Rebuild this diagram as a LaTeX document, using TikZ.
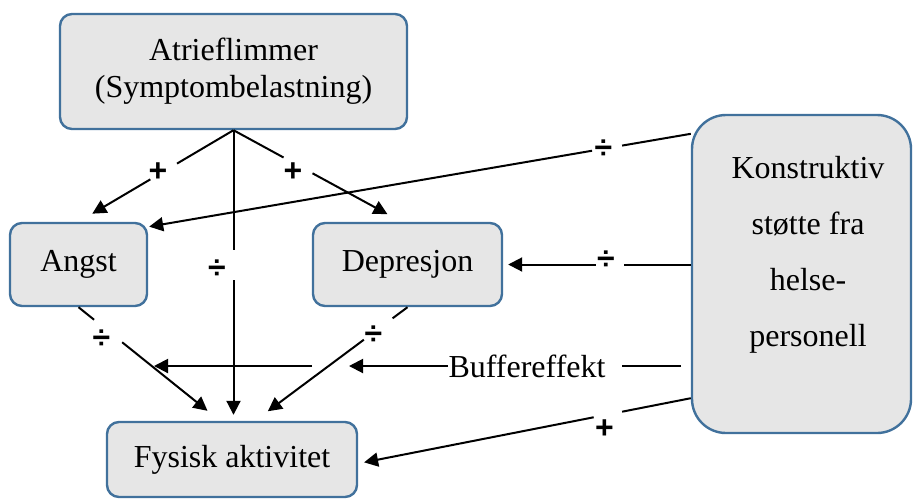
\documentclass[tikz,border=0pt]{standalone}
\usepackage{fontspec}
\setmainfont{Liberation Serif}
\newfontfamily\signfont{Liberation Sans}
\usetikzlibrary{arrows.meta, positioning}
\definecolor{boxblue}{RGB}{65,113,156}
\definecolor{boxgray}{RGB}{230,230,230}

\begin{document}
\begin{tikzpicture}[
    x=0.5pt, y=-0.5pt,
    font=\fontsize{16}{18.5}\selectfont,
    >={Triangle[length=7pt, width=7pt]},
    box/.style={rectangle, draw=boxblue, line width=1.2pt, fill=boxgray, rounded corners=6pt, align=center, inner sep=0pt},
    link/.style={->, line width=1pt},
    sign/.style={font=\signfont\bfseries\fontsize{16}{18}\selectfont, inner sep=0pt}
]
\useasboundingbox (0,0) rectangle (913,499);

    % Boxes
    \node (atrie) [box, minimum width=173.5pt, minimum height=57.5pt] at (233.5,71.5) {Atrieflimmer\\(Symptombelastning)};
    \node (angst) [box, minimum width=68.5pt, minimum height=41.5pt] at (78.5,264.5) {Angst};
    \node (depres) [box, minimum width=94.5pt, minimum height=41.5pt] at (407.5,264.5) {Depresjon};
    \node (fysisk) [box, minimum width=125pt, minimum height=37.5pt] at (232,459.5) {Fysisk aktivitet};

    % Support box (right)
    \node (konst) [box, rounded corners=17pt, minimum width=109.5pt, minimum height=159pt] at (801.5,274) {};
    \node (konsttxt) [align=center, font=\fontsize{16}{28}\selectfont] at (808,255) {Konstruktiv\\støtte fra\\helse-\\personell};

    % Signs
    \node (plusA) [sign] at (158,172) {+};
    \node (plusB) [sign] at (293,172) {+};
    \node (divA) [sign] at (217,269) {÷};
    \node (divB) [sign] at (101.5,339) {÷};
    \node (divC) [sign] at (373.5,335) {÷};
    \node (divD) [sign] at (603.5,149) {÷};
    \node (divE) [sign] at (606,260) {÷};
    \node (plusC) [sign] at (604.5,429) {+};

    % Arrows from Atrieflimmer
    \draw[link, shorten >=8pt, dash pattern=on 32.8pt off 15.5pt on 300pt] (atrie.south) -- (angst.north);
    \draw[link, shorten >=8pt, dash pattern=on 28.5pt off 16.5pt on 300pt] (atrie.south) -- ([xshift=-3pt]depres.north);
    \draw[link, shorten >=3pt, dash pattern=on 60pt off 15pt on 300pt] (atrie.south) -- (atrie.south |- fysisk.north);

    % Arrows to Fysisk aktivitet
    \draw[link, shorten >=8pt, dash pattern=on 10pt off 18pt on 300pt] (angst.south) -- ([xshift=-6pt]fysisk.north);
    \draw[link, shorten >=8pt, dash pattern=on 9.3pt off 17.9pt on 300pt] (depres.south) -- ([xshift=11.5pt]fysisk.north);

    % Arrows from support
    \draw[link, shorten >=0.5pt, dash pattern=on 34.85pt off 15.25pt on 300pt] ([yshift=-10pt]konst.north west) -- ([yshift=-2.5pt]angst.north east);
    \draw[link, shorten >=2.5pt, dash pattern=on 33.5pt off 14.15pt on 300pt] (konst.west |- depres.east) -- (depres.east);
    \draw[link, shorten >=3pt, dash pattern=on 35pt off 14.5pt on 300pt] ([yshift=18pt]konst.south west) -- ([yshift=-2pt]fysisk.east);

    % Buffer effect
    \node (buffer) [inner sep=0pt] at (527,366) {Buffereffekt};
    \coordinate (bufend) at (681,366);
    \coordinate (bufmid) at (349,366);
    \coordinate (bufstart) at (312,366);
    \coordinate (buftip) at (154,366);
    \draw[line width=1pt] (bufend) -- ([xshift=8pt]buffer.east);
    \draw[link] (buffer.west) -- (bufmid);
    \draw[link] (bufstart) -- (buftip);

\end{tikzpicture}
\end{document}
